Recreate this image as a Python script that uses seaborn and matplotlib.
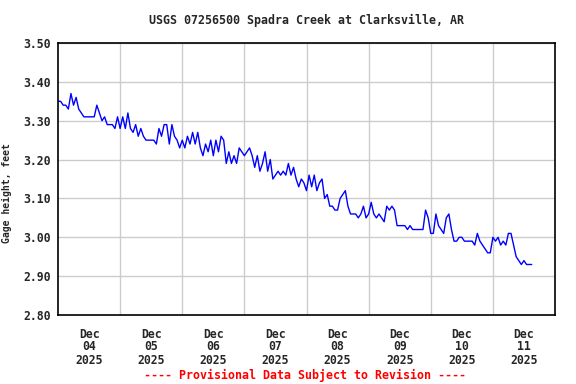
import matplotlib
matplotlib.use("Agg")
import matplotlib.pyplot as plt
import numpy as np
import pandas as pd
import seaborn as sns

# hourly gage height readings (feet), starting Dec 04 2025 00:00
START = "2025-12-04 00:00"
gage_height = [
    # Dec 04
    3.35, 3.35, 3.34, 3.34, 3.33, 3.37, 3.34, 3.36, 3.33, 3.32, 3.31, 3.31,
    3.31, 3.31, 3.31, 3.34, 3.32, 3.30, 3.31, 3.29, 3.29, 3.29, 3.28, 3.31,
    # Dec 05
    3.28, 3.31, 3.28, 3.32, 3.28, 3.27, 3.29, 3.26, 3.28, 3.26, 3.25, 3.25,
    3.25, 3.25, 3.24, 3.28, 3.26, 3.29, 3.29, 3.24, 3.29, 3.26, 3.25, 3.23,
    # Dec 06
    3.25, 3.23, 3.26, 3.24, 3.27, 3.24, 3.27, 3.23, 3.21, 3.24, 3.22, 3.25,
    3.21, 3.25, 3.22, 3.26, 3.25, 3.19, 3.22, 3.19, 3.21, 3.19, 3.23, 3.22,
    # Dec 07
    3.21, 3.22, 3.23, 3.21, 3.18, 3.21, 3.17, 3.19, 3.22, 3.17, 3.20, 3.15,
    3.16, 3.17, 3.16, 3.17, 3.16, 3.19, 3.16, 3.18, 3.15, 3.13, 3.15, 3.14,
    # Dec 08
    3.12, 3.16, 3.13, 3.16, 3.12, 3.14, 3.15, 3.10, 3.11, 3.08, 3.08, 3.07,
    3.07, 3.10, 3.11, 3.12, 3.08, 3.06, 3.06, 3.06, 3.05, 3.06, 3.08, 3.05,
    # Dec 09
    3.06, 3.09, 3.06, 3.05, 3.06, 3.05, 3.04, 3.08, 3.07, 3.08, 3.07, 3.03,
    3.03, 3.03, 3.03, 3.02, 3.03, 3.02, 3.02, 3.02, 3.02, 3.02, 3.07, 3.05,
    # Dec 10
    3.01, 3.01, 3.06, 3.03, 3.02, 3.01, 3.05, 3.06, 3.02, 2.99, 2.99, 3.00,
    3.00, 2.99, 2.99, 2.99, 2.99, 2.98, 3.01, 2.99, 2.98, 2.97, 2.96, 2.96,
    # Dec 11
    3.00, 2.99, 3.00, 2.98, 2.99, 2.98, 3.01, 3.01, 2.98, 2.95, 2.94, 2.93,
    2.94, 2.93, 2.93, 2.93,
]

day_labels = ["Dec\n04\n2025", "Dec\n05\n2025", "Dec\n06\n2025", "Dec\n07\n2025",
              "Dec\n08\n2025", "Dec\n09\n2025", "Dec\n10\n2025", "Dec\n11\n2025"]
y_ticks = [2.80, 2.90, 3.00, 3.10, 3.20, 3.30, 3.40, 3.50]

title = "USGS 07256500 Spadra Creek at Clarksville, AR"
footer = "---- Provisional Data Subject to Revision ----"

times = pd.date_range(START, periods=len(gage_height), freq="h")
df = pd.DataFrame({"time": times, "gage": gage_height})

sns.set_style("white")
plt.rcParams["font.family"] = ["DejaVu Sans Mono"]
plt.rcParams["font.weight"] = "bold"

fig = plt.figure(figsize=(5.76, 3.84), dpi=100)
ax = fig.add_axes([58 / 576, 1 - 315 / 384, (555 - 58) / 576, (315 - 43) / 384])

sns.lineplot(data=df, x="time", y="gage", color="#0000ff", linewidth=1, ax=ax)

# x axis: labels at noon, grid at midnight
noons = pd.date_range("2025-12-04 12:00", periods=len(day_labels), freq="D")
midnights = pd.date_range("2025-12-05 00:00", periods=len(day_labels) - 1, freq="D")
ax.set_xlim(pd.Timestamp("2025-12-04 00:00"), pd.Timestamp("2025-12-12 00:00"))
ax.set_xticks(noons)
ax.set_xticklabels(day_labels, fontsize=8.3, fontweight="bold", linespacing=1.0)
ax.set_xticks(midnights, minor=True)

ax.set_ylim(2.80, 3.50)
ax.set_yticks(y_ticks)
ax.set_yticklabels([f"{v:.2f}" for v in y_ticks], fontsize=8.3, fontweight="bold")

ax.tick_params(axis="both", which="both", length=0)
ax.tick_params(axis="x", pad=9)
ax.tick_params(axis="y", pad=5)

ax.grid(axis="y", which="major", color="#cccccc", linewidth=1)
ax.grid(axis="x", which="minor", color="#cccccc", linewidth=1)
ax.grid(axis="x", which="major", visible=False)
ax.set_axisbelow(True)

for spine in ax.spines.values():
    spine.set_visible(True)
    spine.set_color("black")
    spine.set_linewidth(1.2)

ax.set_xlabel("")
ax.set_ylabel("Gage height, feet", fontsize=7, fontweight="bold")
ax.yaxis.set_label_coords(-0.093, 0.45)

fig.text(306.5 / 576, 1 - 20 / 384, title, ha="center", va="center",
         fontsize=8.4, fontweight="bold")
fig.text(305 / 576, 1 - 375 / 384, footer, ha="center", va="center",
         fontsize=8.4, fontweight="bold", color="red")

fig.savefig("out.png", dpi=100)
plt.close(fig)
